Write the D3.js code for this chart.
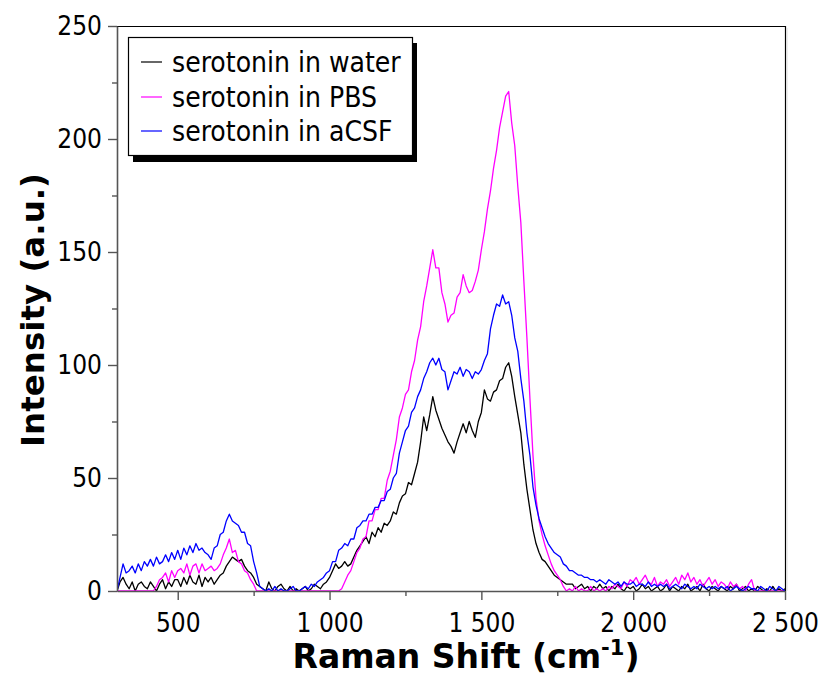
<!DOCTYPE html>
<html>
<head>
<meta charset="utf-8">
<script src="https://cdn.jsdelivr.net/npm/d3@7"></script>
<style>
  html, body { margin: 0; padding: 0; background: #fff; }
  svg { display: block; }
  .cond { font-family: "DejaVu Sans Condensed", "DejaVu Sans", sans-serif; font-stretch: condensed; }
  .bold { font-family: "DejaVu Sans", sans-serif; font-weight: bold; }
</style>
</head>
<body>
<svg id="chart" width="822" height="677"></svg>
<script>
// ---- data (Raman shift grid 300..2500 cm-1, step 10) ----
const shiftStart = 300, shiftEnd = 2500, shiftStep = 10;
const seriesNames = ["serotonin in water", "serotonin in PBS", "serotonin in aCSF"];
const seriesColors = ["#000000", "#ff00ff", "#0000ff"];
const xTicks = [500, 1000, 1500, 2000, 2500];
const xMinorTicks = [750, 1250, 1750, 2250];
const yTicks = [0, 50, 100, 150, 200, 250];
const yMinorTicks = [25, 75, 125, 175, 225];

const water = [
  0, 4, 6, 3, 1, 4, 0, 3, 4, 2,
  1, 4, 2, 0, 3, 5, 1, 4, 2, 5,
  5, 2, 6, 3, 7, 4, 3, 7, 2, 6,
  4, 6, 3, 5, 7, 8, 11, 13, 15, 14,
  13, 14, 11, 9, 8, 6, 3, 2, 1, 0,
  4, 1, 0, 2, 3, 1, 0, 2, 0, 1,
  0, 1, 2, 0, 1, 3, 2, 1, 3, 4,
  6, 9, 12, 10, 11, 13, 11, 12, 15, 18,
  20, 22, 24, 21, 26, 24, 28, 26, 30, 29,
  31, 35, 34, 39, 42, 43, 48, 47, 52, 57,
  66, 77, 71, 78, 86, 80, 76, 72, 69, 66,
  64, 61, 66, 70, 74, 70, 75, 71, 68, 75,
  79, 89, 85, 84, 88, 89, 93, 94, 99, 101,
  95, 86, 78, 70, 56, 45, 36, 27, 21, 17,
  14, 13, 11, 9, 7, 6, 5, 4, 3, 3,
  3, 1, 2, 3, 1, 2, 0, 2, 1, 3,
  1, 2, 0, 2, 1, 3, 1, 0, 2, 1,
  2, 0, 1, 3, 1, 2, 0, 1, 2, 0,
  1, 3, 0, 2, 1, 0, 2, 1, 3, 0,
  1, 2, 0, 3, 1, 0, 2, 1, 0, 2,
  1, 0, 2, 1, 3, 0, 1, 2, 0, 1,
  0, 2, 1, 0, 1, 0, 2, 0, 1, 0, 1
];
const pbs = [
  0, 0, 0, 0, 0, 0, 0, 0, 0, 0,
  0, 0, 0, 2, 5, 6, 8, 4, 9, 6,
  9, 10, 8, 12, 7, 11, 12, 8, 12, 9,
  10, 11, 9, 10, 12, 16, 19, 23, 17, 18,
  13, 12, 9, 8, 5, 3, 0, 0, 0, 0,
  0, 0, 0, 0, 0, 0, 0, 0, 0, 0,
  0, 0, 0, 0, 0, 0, 0, 0, 0, 0,
  0, 0, 0, 0, 1, 4, 7, 9, 13, 17,
  19, 23, 24, 31, 31, 36, 36, 41, 41, 49,
  53, 60, 67, 77, 81, 87, 89, 97, 102, 111,
  117, 128, 135, 143, 151, 143, 143, 132, 127, 119,
  122, 123, 130, 132, 140, 135, 132, 133, 137, 142,
  151, 159, 169, 177, 187, 195, 205, 212, 219, 221,
  207, 197, 179, 163, 137, 112, 85, 60, 41, 31,
  25, 20, 16, 12, 9, 7, 5, 2, 0, 1,
  0, 2, 0, 1, 0, 0, 2, 0, 1, 0,
  1, 0, 2, 1, 3, 2, 1, 4, 2, 5,
  4, 6, 3, 5, 7, 4, 3, 6, 2, 4,
  3, 5, 2, 4, 6, 3, 7, 5, 8, 4,
  6, 3, 5, 2, 4, 6, 3, 5, 2, 4,
  3, 1, 4, 2, 3, 1, 2, 0, 3, 5,
  0, 0, 0, 0, 0, 0, 0, 0, 0, 0, 0
];
const acsf = [
  0, 6, 12, 8, 9, 11, 8, 12, 9, 13,
  11, 14, 11, 15, 12, 13, 16, 13, 17, 14,
  18, 14, 19, 16, 20, 17, 21, 18, 19, 17,
  16, 14, 19, 20, 25, 26, 31, 34, 31, 30,
  29, 26, 26, 21, 20, 13, 8, 2, 1, 0,
  1, 0, 2, 0, 1, 0, 0, 1, 2, 0,
  0, 1, 2, 1, 3, 2, 4, 5, 6, 8,
  9, 13, 13, 18, 19, 21, 20, 23, 23, 28,
  29, 31, 31, 34, 34, 37, 37, 40, 40, 44,
  45, 50, 52, 61, 66, 71, 73, 79, 81, 86,
  89, 94, 97, 101, 103, 100, 103, 98, 97, 89,
  93, 97, 96, 99, 95, 98, 97, 94, 97, 96,
  98, 102, 105, 116, 122, 127, 126, 131, 127, 128,
  122, 112, 106, 94, 84, 70, 60, 46, 38, 32,
  28, 24, 21, 19, 17, 16, 15, 12, 11, 9,
  9, 8, 7, 7, 6, 6, 5, 5, 4, 5,
  4, 3, 5, 4, 3, 4, 2, 4, 3, 3,
  4, 2, 3, 3, 2, 4, 2, 3, 2, 3,
  2, 3, 1, 2, 3, 2, 1, 3, 2, 1,
  2, 1, 3, 2, 1, 2, 1, 2, 1, 2,
  1, 2, 0, 1, 2, 1, 0, 1, 2, 1,
  1, 0, 2, 1, 0, 2, 1, 0, 2, 1, 0
];
const seriesValues = [water, pbs, acsf];

// ---- layout ----
const svg = d3.select("#chart");
const L = 117, R = 785, T = 26, B = 591;
const x = d3.scaleLinear().domain([shiftStart, shiftEnd]).range([L, R]);
const y = d3.scaleLinear().domain([0, 250]).range([B, T]);
const shifts = d3.range(shiftStart, shiftEnd + 1, shiftStep);

const fmt = v => v >= 1000 ? Math.floor(v / 1000) + " " + String(v % 1000).padStart(3, "0") : String(v);

// clip
svg.append("clipPath").attr("id", "clip").append("rect")
  .attr("x", L).attr("y", T).attr("width", R - L).attr("height", B - T + 1);

// frame (top/right)
svg.append("path").attr("d", `M${L},${T + 0.5}H${R + 0.5}V${B}`)
  .attr("fill", "none").attr("stroke", "#000").attr("stroke-width", 1.2);
svg.append("line").attr("x1", R + 2).attr("x2", R + 2).attr("y1", T + 2).attr("y2", B)
  .attr("stroke", "#ddd").attr("stroke-width", 1);

// lines
const line = d3.line().x((d, i) => x(shifts[i])).y(d => y(d)).curve(d3.curveLinear);
const g = svg.append("g").attr("clip-path", "url(#clip)");
seriesValues.forEach((vals, k) => {
  g.append("path").datum(vals).attr("d", line)
    .attr("fill", "none").attr("stroke", seriesColors[k]).attr("stroke-width", 1.3)
    .attr("stroke-linejoin", "round");
});

// axes
const axisColor = "#555";
const xAxis = svg.append("g").attr("transform", `translate(0,${B})`)
  .call(d3.axisBottom(x).tickValues(xTicks).tickSize(9).tickSizeOuter(0).tickPadding(9).tickFormat(fmt));
const xMinor = svg.append("g").attr("transform", `translate(0,${B})`)
  .call(d3.axisBottom(x).tickValues(xMinorTicks).tickSize(5).tickSizeOuter(0).tickFormat(""));
const yAxis = svg.append("g").attr("transform", `translate(${L},0)`)
  .call(d3.axisLeft(y).tickValues(yTicks).tickSize(9).tickSizeOuter(0).tickPadding(6));
const yMinor = svg.append("g").attr("transform", `translate(${L},0)`)
  .call(d3.axisLeft(y).tickValues(yMinorTicks).tickSize(5).tickSizeOuter(0).tickFormat(""));
[xAxis, xMinor, yAxis, yMinor].forEach(a => {
  a.select(".domain").attr("stroke", axisColor).attr("stroke-width", 1.6);
  a.selectAll(".tick line").attr("stroke", axisColor).attr("stroke-width", 1.4);
  a.selectAll("text").attr("class", "cond").attr("font-size", 26).attr("fill", "#000");
});
xMinor.select(".domain").remove();
yMinor.select(".domain").remove();
xAxis.selectAll("text").attr("dy", "0.9em");

// axis titles
svg.append("text").attr("class", "bold").attr("font-size", 32.5)
  .attr("text-anchor", "middle")
  .attr("transform", "translate(44,310) rotate(-90)")
  .text("Intensity (a.u.)");
const xt = svg.append("text").attr("class", "bold").attr("font-size", 33)
  .attr("text-anchor", "middle").attr("x", 466).attr("y", 668);
xt.append("tspan").text("Raman Shift (cm");
xt.append("tspan").attr("font-size", 21).attr("dy", -13).text("-1");
xt.append("tspan").attr("dy", 13).text(")");

// legend
const lg = svg.append("g");
lg.append("rect").attr("x", 133).attr("y", 43).attr("width", 284).attr("height", 119).attr("fill", "#000");
lg.append("rect").attr("x", 128.5).attr("y", 37.5).attr("width", 284).attr("height", 118)
  .attr("fill", "#fff").attr("stroke", "#000").attr("stroke-width", 1.2);
const rowY = [62, 97, 131];
seriesNames.forEach((name, k) => {
  lg.append("line").attr("x1", 141).attr("x2", 162).attr("y1", rowY[k]).attr("y2", rowY[k])
    .attr("stroke", seriesColors[k]).attr("stroke-width", 1.2);
  lg.append("text").attr("class", "cond").attr("font-size", 28).attr("x", 172).attr("y", rowY[k] + 10)
    .text(name);
});
</script>
</body>
</html>
